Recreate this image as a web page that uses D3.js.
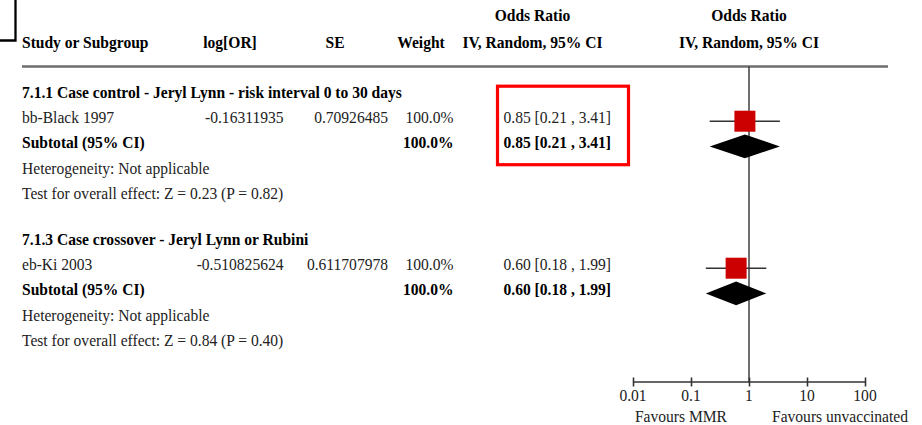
<!DOCTYPE html>
<html>
<head>
<meta charset="utf-8">
<script src="https://cdn.jsdelivr.net/npm/d3@7"></script>
<style>
  html, body { margin: 0; padding: 0; background: #fff; }
  svg { display: block; }
</style>
</head>
<body>
<svg id="chart" width="922" height="425"></svg>
<script>
// ---- data ----
const subgroupTitles = [
  "7.1.1 Case control - Jeryl Lynn - risk interval 0 to 30 days",
  "7.1.3 Case crossover - Jeryl Lynn or Rubini"
];
const studyNames = ["bb-Black 1997", "eb-Ki 2003"];
const logOR = ["-0.16311935", "-0.510825624"];
const stdErr = ["0.70926485", "0.611707978"];
const weights = [100.0, 100.0];
const studyOR = [0.85, 0.60];
const studyLow = [0.21, 0.18];
const studyHigh = [3.41, 1.99];
const subtotalOR = [0.85, 0.60];
const subtotalLow = [0.21, 0.18];
const subtotalHigh = [3.41, 1.99];
const subtotalWeight = [100.0, 100.0];
const heterogeneity = ["Not applicable", "Not applicable"];
const effectZ = ["0.23", "0.84"];
const effectP = ["0.82", "0.40"];
const axisTicks = [0.01, 0.1, 1, 10, 100];
const axisTickLabels = ["0.01", "0.1", "1", "10", "100"];
const favoursLeft = "Favours MMR";
const favoursRight = "Favours unvaccinated";
const highlightedSubgroup = 0;

// ---- layout ----
const svg = d3.select("#chart");
const FONT = "'Liberation Serif', 'Times New Roman', serif";
const FS = 17.3, SX = 0.9;
const rowStep = 25.2;
const sectionTop = [98, 245];
const axisY = 382;
const headerLineY = 66.5;

const x = d3.scaleLog().domain([0.01, 100]).range([633, 865]);

function label(g, str, px, py, opts = {}) {
  return g.append("text")
    .attr("transform", `translate(${px},${py}) scale(${SX},1)`)
    .attr("text-anchor", opts.anchor || "start")
    .attr("font-family", FONT)
    .attr("font-size", FS)
    .attr("font-weight", opts.bold ? "bold" : "normal")
    .attr("fill", opts.bold ? "#000" : (opts.color || "#222"))
    .text(str);
}

const fmt2 = d3.format(".2f");
const fmtW = d => d3.format(".1f")(d) + "%";
const ciText = (e, l, h) => `${fmt2(e)} [${fmt2(l)} , ${fmt2(h)}]`;

// corner mark
svg.append("path")
  .attr("d", "M15.5,0 V40.5 H0")
  .attr("fill", "none").attr("stroke", "#000").attr("stroke-width", 2.3);

// ---- headers ----
const head = svg.append("g");
label(head, "Study or Subgroup", 22, 47.5, { bold: true });
label(head, "log[OR]", 230, 47.5, { bold: true, anchor: "middle" });
label(head, "SE", 335, 47.5, { bold: true, anchor: "middle" });
label(head, "Weight", 421, 47.5, { bold: true, anchor: "middle" });
label(head, "Odds Ratio", 532.5, 21, { bold: true, anchor: "middle" });
label(head, "IV, Random, 95% CI", 532.5, 47.5, { bold: true, anchor: "middle" });
label(head, "Odds Ratio", x(1), 21, { bold: true, anchor: "middle" });
label(head, "IV, Random, 95% CI", x(1), 47.5, { bold: true, anchor: "middle" });

svg.append("line")
  .attr("x1", 22).attr("x2", 888).attr("y1", headerLineY).attr("y2", headerLineY)
  .attr("stroke", "#6e6e6e").attr("stroke-width", 2.5);

// line of no effect
svg.append("line")
  .attr("x1", x(1)).attr("x2", x(1)).attr("y1", headerLineY).attr("y2", axisY)
  .attr("stroke", "#333").attr("stroke-width", 1.4);

// ---- subgroups ----
const colOR = 503.5;
subgroupTitles.forEach((title, i) => {
  const g = svg.append("g");
  const y0 = sectionTop[i];
  const yStudy = y0 + rowStep, ySub = y0 + 2 * rowStep;
  label(g, title, 22, y0, { bold: true });
  label(g, studyNames[i], 22, yStudy);
  label(g, logOR[i], 283.5, yStudy, { anchor: "end" });
  label(g, stdErr[i], 388, yStudy, { anchor: "end" });
  label(g, fmtW(weights[i]), 453.5, yStudy, { anchor: "end" });
  label(g, ciText(studyOR[i], studyLow[i], studyHigh[i]), colOR, yStudy);
  label(g, "Subtotal (95% CI)", 22, ySub, { bold: true });
  label(g, fmtW(subtotalWeight[i]), 453.5, ySub, { bold: true, anchor: "end" });
  label(g, ciText(subtotalOR[i], subtotalLow[i], subtotalHigh[i]), colOR, ySub, { bold: true });
  label(g, "Heterogeneity: " + heterogeneity[i], 22, y0 + 3 * rowStep);
  label(g, `Test for overall effect: Z = ${effectZ[i]} (P = ${effectP[i]})`, 22, y0 + 4 * rowStep);

  // study CI and square
  const my = yStudy - 2;
  g.append("line")
    .attr("x1", x(studyLow[i])).attr("x2", x(studyHigh[i]))
    .attr("y1", my).attr("y2", my)
    .attr("stroke", "#333").attr("stroke-width", 1.4);
  const sq = 21 * Math.sqrt(weights[i] / 100);
  g.append("rect")
    .attr("x", x(studyOR[i]) - sq / 2).attr("y", my - sq / 2)
    .attr("width", sq).attr("height", sq)
    .attr("fill", "#cc0000");

  // subtotal diamond
  const dy = ySub - 2, h = 11.8;
  g.append("path")
    .attr("d", `M${x(subtotalLow[i])},${dy} L${x(subtotalOR[i])},${dy - h} L${x(subtotalHigh[i])},${dy} L${x(subtotalOR[i])},${dy + h} Z`)
    .attr("fill", "#000");

  if (i === highlightedSubgroup) {
    g.append("rect")
      .attr("x", colOR - 6).attr("y", yStudy - 37)
      .attr("width", 131).attr("height", 78.5)
      .attr("fill", "none").attr("stroke", "#ff0000").attr("stroke-width", 3.2);
  }
});

// ---- axis ----
const axisG = svg.append("g").attr("transform", `translate(0,${axisY})`);
axisG.call(d3.axisBottom(x).tickValues(axisTicks).tickFormat((d, i) => axisTickLabels[i]).tickSize(0).tickPadding(0));
axisG.select(".domain").remove();
axisG.selectAll(".tick text").remove();
axisG.append("line")
  .attr("x1", x(0.01)).attr("x2", x(100))
  .attr("stroke", "#333").attr("stroke-width", 1.6);
axisG.selectAll(".tick").append("line")
  .attr("y1", -4.5).attr("y2", 4.5)
  .attr("stroke", "#333").attr("stroke-width", 1.6);
axisTicks.forEach((t, i) => label(svg, axisTickLabels[i], x(t), 401, { anchor: "middle" }));
label(svg, favoursLeft, x(1) - 22, 421.5, { anchor: "end" });
label(svg, favoursRight, x(1) + 23, 421.5);
</script>
</body>
</html>
